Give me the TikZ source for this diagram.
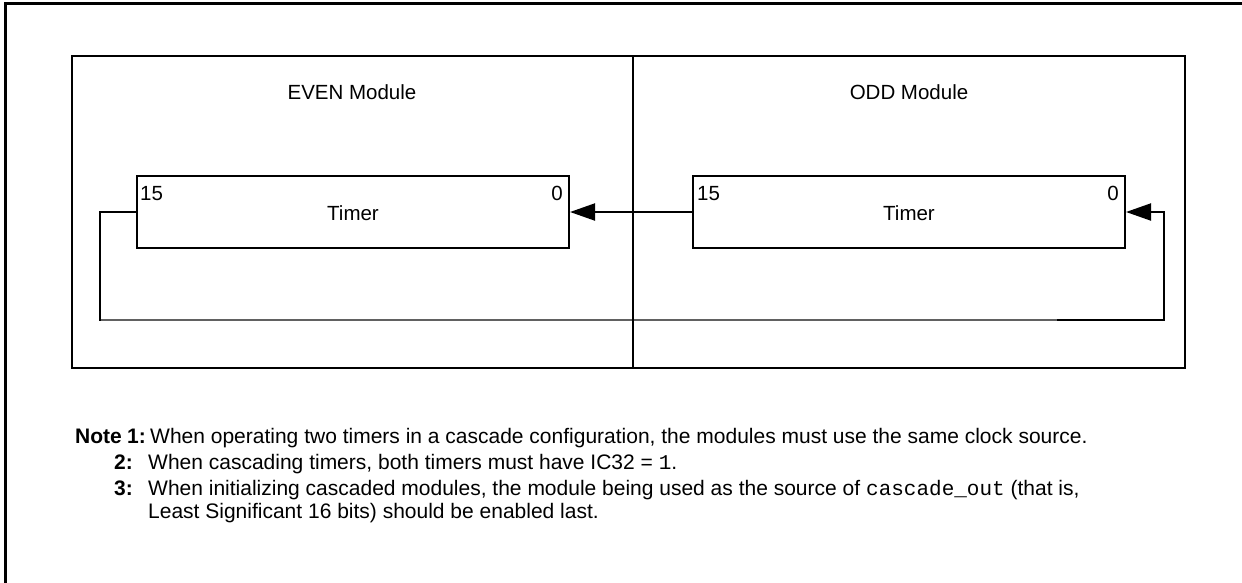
\documentclass[tikz,border=0pt]{standalone}
\usepackage{fontspec}
\setmainfont{Liberation Sans}
\setmonofont{Liberation Mono}
\usetikzlibrary{arrows.meta}
\begin{document}
\begin{tikzpicture}[x=1pt,y=-1pt,
  lbl/.style={font=\fontsize{20.5}{24}\selectfont, inner sep=0pt},
  notetxt/.style={font=\fontsize{21}{25}\selectfont, inner sep=0pt, anchor=base west},
  notenum/.style={font=\fontsize{21}{25}\selectfont\bfseries, inner sep=0pt, anchor=base east},
  modbox/.style={draw, line width=2.5pt, inner sep=0pt, minimum height=312pt},
  timerbox/.style={draw, line width=2pt, inner sep=0pt, minimum width=432pt, minimum height=72pt},
  wire/.style={line width=2pt},
  tip/.style={-{Triangle[length=25pt,width=17pt]}}]
\useasboundingbox (0,0) rectangle (1242,582);
\clip (0,0) rectangle (1242,582);
% outer frame (only top and left visible)
\draw[line width=3pt] (5,600) -- (5,3) -- (1260,3);
% modules
\node[modbox, minimum width=561pt] (evenm) at (352.5,212) {};
\node[modbox, minimum width=552pt] (oddm) at (909,212) {};
\node[lbl] (evenlbl) at (352,92) {EVEN Module};
\node[lbl] (oddlbl) at (909,92) {ODD Module};
% timers
\node[timerbox] (et) at (353,212) {};
\node[timerbox] (ot) at (909,212) {};
\node[lbl, anchor=base] (etl) at (353,220) {Timer};
\node[lbl, anchor=base] (otl) at (909,220) {Timer};
\node[lbl, anchor=base west] (et15) at ([xshift=4pt,yshift=-25pt]et.north west) {15};
\node[lbl, anchor=base east] (et0) at ([xshift=-7pt,yshift=-25pt]et.north east) {0};
\node[lbl, anchor=base west] (ot15) at ([xshift=5pt,yshift=-25pt]ot.north west) {15};
\node[lbl, anchor=base east] (ot0) at ([xshift=-7pt,yshift=-25pt]ot.north east) {0};
% connectors
\draw[wire, tip] (ot.west) -- (et.east);
\coordinate (la) at (100,212);
\coordinate (lb) at (100,320);
\coordinate (lc) at (1057,320);
\coordinate (ld) at (1164,320);
\coordinate (le) at (1164,212);
\draw[wire, tip] (et.west) -- (la) -- (lb) -- (ld) -- (le) -- (ot.east);
\draw[line width=2pt, draw=black!62] ([xshift=1pt]lb) -- (lc);
\draw[line width=2.5pt] (633,56) -- (633,368);
% notes
\node[notenum] (note) at (122,443) {Note};
\node[notenum] (n1) at (146,443) {1:};
\node[notenum] (n2) at (133,469) {2:};
\node[notenum] (n3) at (133,495) {3:};
\node[notetxt] (t1) at (150,443) {When operating two timers in a cascade configuration, the modules must use the same clock source.};
\node[notetxt] (t2) at (148,469) {When cascading timers, both timers must have IC32 = \texttt{1}.};
\node[notetxt] (t3) at (148,495) {When initializing cascaded modules, the module being used as the source of \texttt{cascade\_out} (that is,};
\node[notetxt] (t4) at (148,518) {Least Significant 16 bits) should be enabled last.};
\end{tikzpicture}
\end{document}
